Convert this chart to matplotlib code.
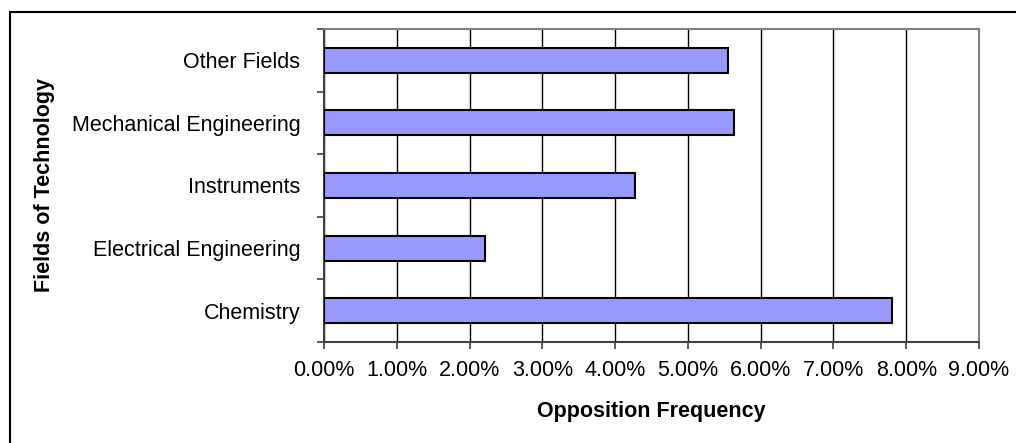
import numpy as np
import matplotlib.pyplot as plt
from matplotlib.patches import Rectangle
from matplotlib.ticker import FixedLocator

plt.rcParams['font.family'] = ['Liberation Sans', 'DejaVu Sans']

fields = ['Chemistry', 'Electrical Engineering', 'Instruments',
          'Mechanical Engineering', 'Other Fields']
freq = [7.80, 2.21, 4.27, 5.64, 5.55]  # percent
xticks = [0, 1, 2, 3, 4, 5, 6, 7, 8, 9]

fig = plt.figure(figsize=(10.16, 4.43), dpi=100)
ax = fig.add_axes([324 / 1016, 1 - 342 / 443, 655 / 1016, 313 / 443])

y = np.arange(len(fields))
ax.barh(y, freq, height=0.4, color='#9999FF', edgecolor='black', linewidth=1.5, zorder=3)

ax.set_xlim(0, 9)
ax.set_ylim(-0.5, len(fields) - 0.5)

ax.set_xticks(xticks)
ax.set_xticklabels(['%.2f%%' % v for v in xticks])
ax.xaxis.grid(True, color='black', linewidth=1.0, zorder=0)

ax.set_yticks(y)
ax.set_yticklabels(fields)
ax.yaxis.set_minor_locator(FixedLocator(np.arange(-0.5, len(fields), 1.0)))
ax.tick_params(axis='y', which='major', length=0, pad=17, labelsize=15.5)
ax.tick_params(axis='y', which='minor', length=5, width=1.2, color='#404040')
ax.tick_params(axis='x', length=5, width=1.2, color='#404040', pad=8, labelsize=15.5)

for side in ['top', 'right']:
    ax.spines[side].set_color('#808080')
    ax.spines[side].set_linewidth(1.5)
for side in ['left', 'bottom']:
    ax.spines[side].set_color('#404040')
    ax.spines[side].set_linewidth(1.5)

ax.set_xlabel('Opposition Frequency', fontsize=15.5, fontweight='bold', labelpad=14)
fig.text(45 / 1016, 1 - 185 / 443, 'Fields of Technology', rotation=90,
         fontsize=15.5, fontweight='bold', ha='center', va='center')

# chart area border (only top and left visible)
fig.patches.append(Rectangle((10 / 1016, -0.2), 1.2, 1.2 - 12 / 443 + 0.0,
                             transform=fig.transFigure, fill=False,
                             edgecolor='black', linewidth=1.5))

fig.savefig('out.png', dpi=100)
